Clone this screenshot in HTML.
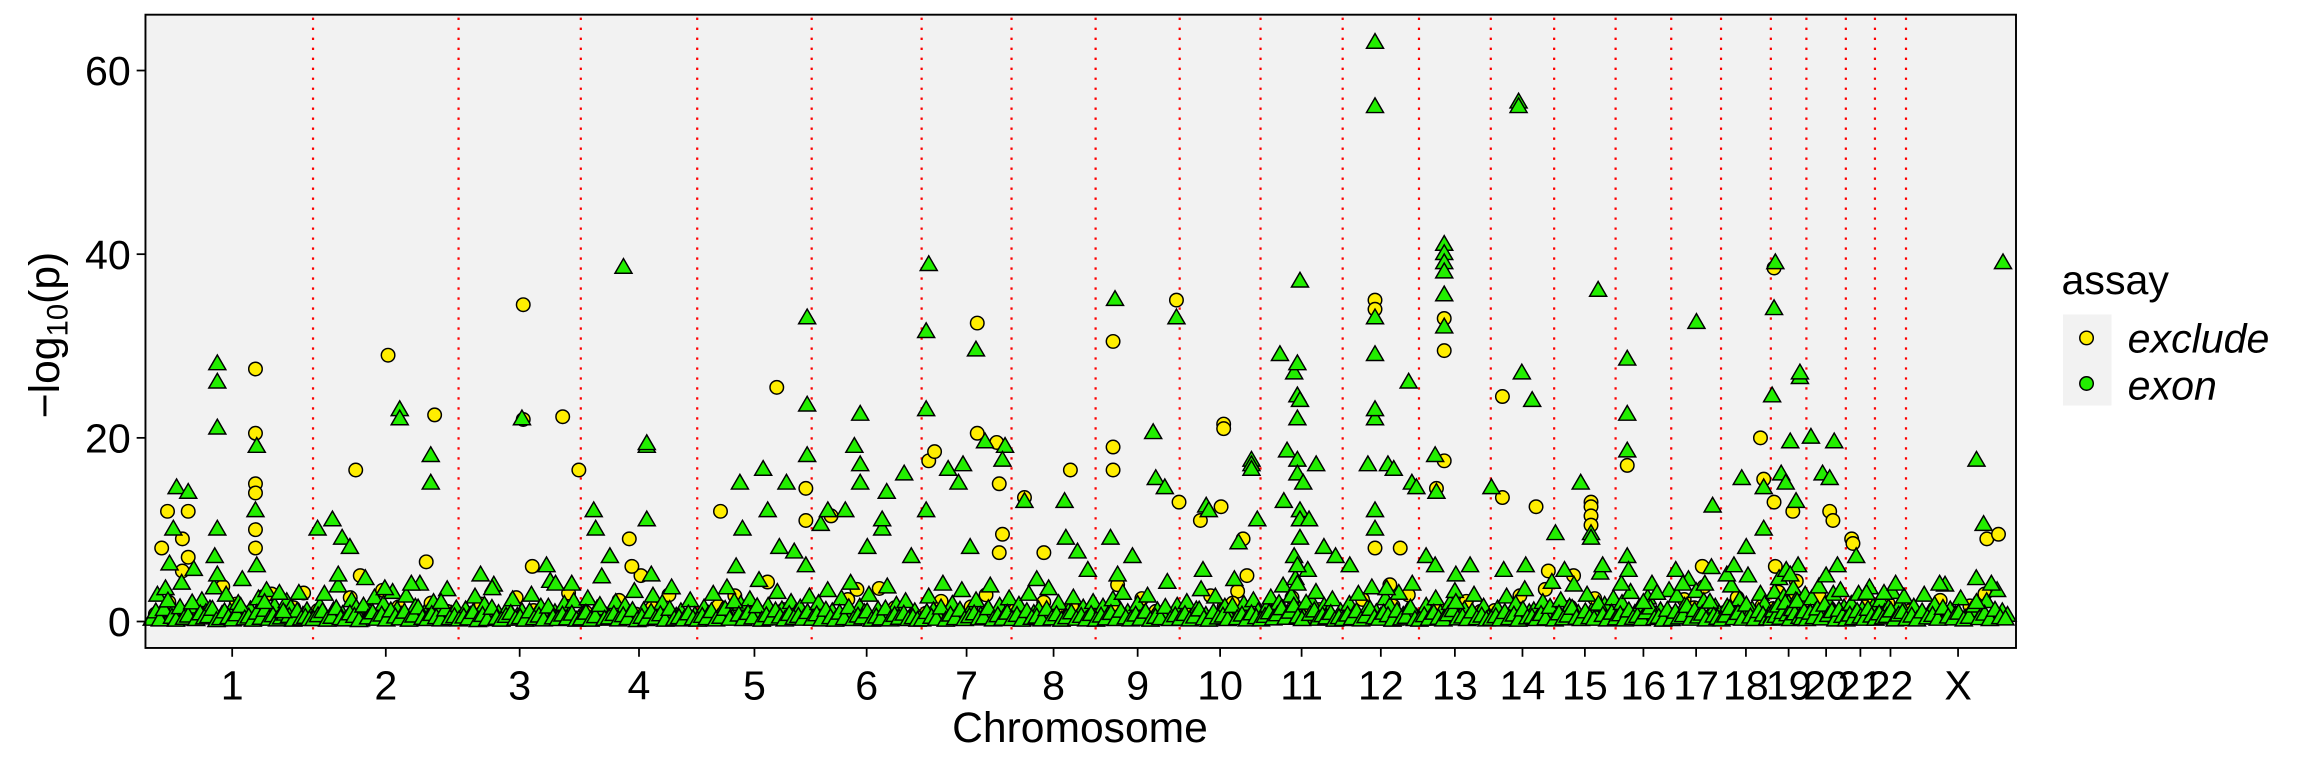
<!DOCTYPE html>
<html><head><meta charset="utf-8"><style>
html,body{margin:0;padding:0;background:#fff;}
svg{display:block;font-family:"Liberation Sans",Arial,sans-serif;}
</style></head><body>
<svg id="chart" width="2304" height="768" viewBox="0 0 1568 522.7" preserveAspectRatio="none" xmlns="http://www.w3.org/2000/svg">
<rect x="0" y="0" width="1568" height="523" fill="#fff"/>
<rect x="99" y="10" width="1273" height="431" fill="#f2f2f2"/>
<g id="vlines"></g>
<g id="points"></g>
<rect x="99" y="10" width="1273" height="431" fill="none" stroke="#000" stroke-width="1.3"/>
<g id="yaxis"></g>
<g id="xaxis"></g>
<text transform="translate(40,228) rotate(-90)" text-anchor="middle" font-size="29">−log<tspan font-size="20" dy="6">10</tspan><tspan dy="-6">(p)</tspan></text>
<text x="735" y="505" text-anchor="middle" font-size="29">Chromosome</text>
<g>
<text x="1403" y="200" font-size="28">assay</text>
<rect x="1404" y="214" width="33" height="62" fill="#f2f2f2"/>
<circle cx="1420" cy="230" r="4.6" fill="#ffee00" stroke="#000" stroke-width="1"/>
<circle cx="1420" cy="261" r="4.6" fill="#22ee00" stroke="#000" stroke-width="1"/>
<text x="1448" y="240" font-size="28" font-style="italic">exclude</text>
<text x="1448" y="272" font-size="28" font-style="italic">exon</text>
</g>
</svg>
<script>
const chrNames=["1","2","3","4","5","6","7","8","9","10","11","12","13","14","15","16","17","18","19","20","21","22","X"];
const chrLen=[250,225,189,180,177,170,139,130,130,125,127,118,111,98,95,86,77,77,55,61,45,48,161];
const yTicks=[0,20,40,60];
// [chrIndex, positionMb, -log10p]
const exonPeaks=[
[0,39,14.5],[0,57,14],[0,34,10],[0,102,28],[0,102,26],[0,102,21],[0,102,10],[0,98,7],[0,102,5],[0,163,19],[0,161,12],[0,163,6],[0,175,2],[0,198,3],[0,204,1],
[1,7,10],[1,30,11],[1,45,9],[1,57,8],[1,39,5],[1,134,23],[1,134,22],[1,182,18],[1,182,15],[1,111,3.5],[1,152,4],[1,198,2],
[2,34,5],[2,52,3.5],[2,98,22],[2,136,6],[2,150,4],[2,175,4],
[3,20,12],[3,23,10],[3,45,7],[3,66,38.5],[3,102,19],[3,102,19.3],[3,102,11],[3,109,5],
[4,66,15],[4,70,10],[4,102,16.5],[4,109,12],[4,138,15],[4,127,8],[4,150,7.5],[4,170,33],[4,170,23.5],[4,170,18],[4,168,6],
[5,14,10.5],[5,25,12],[5,52,12],[5,66,19],[5,75,22.5],[5,75,17],[5,75,15],[5,86,8],[5,109,10],[5,109,11],[5,116,14],[5,143,16],[5,154,7],
[6,7,12],[6,7,31.5],[6,7,23],[6,11,38.8],[6,41,16.5],[6,57,15],[6,64,17],[6,84,29.5],[6,98,19.5],[6,129,19],[6,125,17.5],[6,75,8],
[7,20,13],[7,84,9],[7,82,13],[7,102,7.5],[7,118,5.5],[7,39,4.5],
[8,30,35],[8,23,9],[8,34,5],[8,57,7],[8,89,20.5],[8,93,15.5],[8,107,14.5],[8,125,33],
[9,36,5.5],[9,41,12.5],[9,45,12],[9,91,8.5],[9,111,17.5],[9,111,17],[9,111,16.5],[9,120,11],
[10,30,29],[10,41,18.5],[10,36,13],[10,52,27],[10,57,28],[10,57,24.5],[10,61,24],[10,57,22],[10,57,17.5],[10,57,16],[10,61,12],[10,61,11],[10,61,9],[10,61,37],[10,66,15],[10,52,7],[10,75,11],[10,86,17],[10,98,8],[10,116,7],[10,57,6],[10,57,4],
[11,11,6],[11,50,63],[11,50,56],[11,50,29],[11,50,22],[11,50,33],[11,50,23],[11,50,12],[11,50,10],[11,39,17],[11,70,17],[11,79,16.5],[11,102,26],[11,107,15],[11,114,14.5],[11,68,3.5],
[12,11,7],[12,25,18],[12,27,14],[12,39,41],[12,39,40],[12,39,39],[12,39,38],[12,39,35.5],[12,39,32],[12,25,6],[12,57,5],[12,57,2],[12,79,6],
[13,1,14.5],[13,20,5.5],[13,43,56.5],[13,43,56],[13,48,27],[13,54,6],[13,64,24],
[14,2,9.5],[14,16,5.5],[14,41,15],[14,57,9.5],[14,57,9],[14,68,36],[14,75,6],
[15,9,4],[15,18,22.5],[15,18,28.5],[15,18,18.5],[15,18,7],[15,20,5.5],[15,43,2],[15,64,3],
[16,7,5.5],[16,18,4],[16,39,32.5],[16,64,12.5],[16,52,4],
[17,9,5],[17,32,15.5],[17,39,8],[17,20,6],[17,66,14.5],[17,66,10],
[18,2,24.5],[18,5,34],[18,7,39],[18,16,16],[18,23,15],[18,30,19.5],[18,39,13],[18,45,26.5],[18,45,27],[18,30,5],
[19,7,20],[19,25,16],[19,36,15.5],[19,43,19.5],[19,48,6],
[20,16,7],[20,32,3],
[21,14,3],[21,32,4],
[22,52,4],[22,109,17.5],[22,120,10.5],[22,150,39],[22,132,4],[22,109,2]
];
const excludePeaks=[
[0,16,8],[0,25,12],[0,57,12],[0,48,9],[0,57,7],[0,161,27.5],[0,161,20.5],[0,161,15],[0,161,14],[0,161,10],[0,161,8],[0,186,3],[0,220,1.5],
[1,66,16.5],[1,73,5],[1,116,29],[1,188,22.5],[1,175,6.5],
[2,100,22],[2,100,34.5],[2,114,6],[2,161,22.3],[2,186,16.5],
[3,75,9],[3,93,5],[3,79,6],
[4,36,12],[4,123,25.5],[4,168,14.5],[4,168,11],
[5,30,11.5],[5,70,3.5],
[6,11,17.5],[6,20,18.5],[6,86,32.5],[6,86,20.5],[6,116,19.5],[6,120,15],[6,125,9.5],[6,120,7.5],
[7,20,13.5],[7,50,7.5],[7,91,16.5],
[8,27,30.5],[8,27,19],[8,27,16.5],[8,125,35],[8,129,13],[8,34,4],
[9,32,11],[9,68,21.5],[9,68,21],[9,64,12.5],[9,98,9],[9,104,5],[9,82,2],
[11,50,35],[11,50,34],[11,50,8],[11,89,8],[11,73,4],
[12,27,14.5],[12,39,33],[12,39,29.5],[12,39,17.5],
[13,18,13.5],[13,70,12.5],[13,18,24.5],[13,89,5.5],
[14,30,5],[14,57,13],[14,57,12.5],[14,57,11.5],[14,57,10.5],
[15,18,17],
[16,48,6],
[17,66,15.5],[17,61,20],
[18,5,38.5],[18,5,13],[18,7,6],[18,34,12],
[19,36,12],[19,41,11],
[20,9,9],[20,11,8.5],
[21,20,2],
[22,125,9],[22,143,9.5]
];
// low-significance background values per chromosome (evenly spread along chromosome)
const exonLow=[
"0.5,2.8,0.3,3.5,6.2,1.1,0.2,4.1,0.8,1.5,5.6,0.4,2.2,0.9,1.3,3.6,0.1,0.7,2.8,1.0,0.3,1.9,4.5,0.6,1.2,0.2,2.4,0.8,3.3,0.5,1.6,0.3,0.9,2.1,1.4,0.2,3.0,0.6,1.1,0.4",
"0.4,1.6,2.9,0.2,1.1,3.8,0.7,0.3,2.2,1.4,0.1,4.6,0.9,2.5,0.5,1.8,0.3,3.1,1.2,0.6,2.7,0.2,1.5,4.0,0.8,0.4,2.0,1.0,0.3,3.4,0.7,1.3",
"0.3,1.2,0.6,2.6,0.1,1.7,0.4,3.9,0.8,0.2,1.4,2.3,0.5,1.0,0.2,2.8,0.7,1.5,0.3,4.3,0.9,0.4,1.8,0.6,2.1,0.2",
"0.6,2.4,0.2,1.3,4.8,0.5,0.9,2.0,0.3,1.6,0.7,3.2,0.1,1.1,0.4,2.7,0.8,1.9,0.2,3.6,0.5,1.0,0.3,2.2,0.6",
"0.2,1.4,0.7,2.9,0.3,1.1,3.6,0.5,5.9,1.8,0.4,2.3,0.9,4.4,0.2,1.6,0.6,3.1,1.2,0.3,2.0,0.8,1.4,0.5,2.6",
"0.5,1.9,0.3,3.3,1.0,0.2,2.4,0.7,4.1,0.4,1.5,0.9,2.8,0.2,1.2,0.6,3.7,0.3,1.7,0.8,2.1,0.4,1.0,0.2",
"0.3,2.6,1.1,0.5,4.0,0.2,1.8,0.7,3.3,0.4,1.3,2.2,0.6,0.9,3.8,0.3,1.6,0.5,2.4",
"0.4,1.7,0.2,2.9,0.8,1.2,0.3,3.5,0.6,1.9,0.2,1.0,2.5,0.5,1.4,0.3,2.0",
"0.2,1.5,0.6,2.3,0.4,3.0,0.9,0.3,1.8,0.5,2.7,0.2,1.1,0.7,4.2,0.4,1.6",
"0.5,2.0,0.3,1.2,3.4,0.6,0.2,2.6,0.9,1.5,0.4,4.5,0.7,1.8,0.3,2.2,1.0",
"0.3,1.4,2.5,0.6,1.9,3.8,0.8,2.7,4.6,1.2,0.4,5.5,2.0,3.1,0.5,1.6,0.9,2.3,0.2,1.0",
"0.4,1.8,0.7,2.9,0.3,1.3,3.6,0.9,0.5,2.4,1.6,0.2,3.0,0.6,1.1,4.0,0.4",
"0.2,1.6,0.5,2.4,0.8,0.3,1.9,3.2,0.6,1.2,0.4,2.8,0.7,1.5,0.3",
"0.5,1.3,0.3,2.6,0.7,1.8,0.2,3.4,0.9,1.1,0.4,2.0,0.6,4.2",
"0.3,2.2,0.6,1.5,3.9,0.8,0.4,2.8,1.0,0.5,5.2,1.7,0.3,2.4",
"0.6,1.9,0.3,3.1,0.8,1.4,0.4,2.5,4.0,0.7,1.1,0.2,3.3",
"0.4,2.7,0.9,1.6,4.5,0.5,3.2,1.2,2.1,0.3,5.8,1.5,0.8",
"0.3,1.5,3.8,0.7,2.3,0.5,4.9,1.2,0.4,2.9,1.8,0.6",
"0.5,3.1,1.4,4.6,0.8,2.6,5.5,1.9,0.4,3.5,2.2,6.0,1.1,0.7,2.8",
"0.4,2.4,1.0,3.7,0.6,4.9,1.7,2.9,0.3,3.3,1.4",
"0.3,1.8,0.7,2.9,1.2,0.5,3.6,1.5",
"0.5,2.2,0.9,1.4,3.1,0.3,1.8,2.6",
"0.4,1.5,0.3,2.8,0.9,1.7,0.5,3.9,1.2,0.6,2.4,0.3,1.1,4.6,0.7,2.1,0.4,3.3,1.0,0.6"
];
const excludeLow=[
"0.8,2.1,5.5,1.4,0.6,3.8,1.9,0.9,2.7,0.5,1.6,3.1",
"1.2,0.5,2.6,0.9,3.4,1.6,0.4,2.0,1.1",
"0.7,1.9,0.4,2.6,1.2,0.6,3.1",
"1.0,0.4,2.3,0.8,1.5,2.9,0.6",
"0.6,1.7,2.8,0.9,4.3,1.3,0.5",
"1.1,0.5,2.4,0.8,3.6,1.5,0.4",
"0.9,2.2,0.5,1.6,2.9,0.7",
"1.3,0.6,2.1,0.9,1.7,0.5",
"0.8,1.9,0.4,2.5,1.1,0.6",
"1.2,0.7,2.8,1.6,3.3,0.5",
"0.6,1.8,2.6,0.9,1.3,0.4",
"1.0,2.4,0.6,1.7,2.9",
"0.7,1.5,0.4,2.2,1.1",
"1.2,0.5,2.8,0.9,3.5",
"0.8,1.6,0.4,2.5,1.3",
"1.1,0.6,2.3,0.9",
"0.7,2.4,1.5,3.8,0.9",
"1.0,2.6,0.5,1.7",
"1.4,3.2,0.8,2.5,4.4,1.9",
"0.9,2.7,1.5,0.6",
"1.1,0.6,2.0",
"0.8,1.6,0.5",
"1.2,0.6,2.3,0.9,1.7,3.0,0.5"
];

const NS='http://www.w3.org/2000/svg';
const X0=103,X1=1368,Y0=423,YPU=6.25;
const chrStart=[];let acc=0;for(const L of chrLen){chrStart.push(acc);acc+=L;}
const total=acc;
function xScale(g){return X0+(X1-X0)*g/total;}
function yScale(v){return Y0-v*YPU;}
function gpos(c,p){return chrStart[c]+p;}
function mk(tag,attrs,parent){const e=document.createElementNS(NS,tag);for(const k in attrs)e.setAttribute(k,attrs[k]);parent.appendChild(e);return e;}

const vl=document.getElementById('vlines');
for(let c=1;c<chrLen.length;c++){
  const x=xScale(chrStart[c]);
  const l=mk('line',{x1:x,x2:x,y1:12,y2:441,stroke:'#ff0000','stroke-width':1.5,'stroke-dasharray':'1.6 5.2'},vl);
  
  
}

const pts=document.getElementById('points');
function circle(g,v){
  const e=mk('circle',{cx:xScale(g).toFixed(2),cy:yScale(v).toFixed(2),r:4.6,fill:'#ffee00',stroke:'#000','stroke-width':1},pts);
  
  
}
function tri(g,v){
  const x=xScale(g),y=yScale(v);
  const d=`M${(x-5.8).toFixed(2)},${(y+3.6).toFixed(2)} L${(x+5.8).toFixed(2)},${(y+3.6).toFixed(2)} L${x.toFixed(2)},${(y-6.4).toFixed(2)} Z`;
  const e=mk('path',{d:d,fill:'#22ee00',stroke:'#000','stroke-width':1,'stroke-linejoin':'miter'},pts);
  
  
}
excludeLow.forEach((s,c)=>{const vals=s.split(',').map(Number);const n=vals.length;vals.forEach((v,i)=>circle(gpos(c,chrLen[c]*(i+0.3)/n),v));});
excludePeaks.forEach(p=>circle(gpos(p[0],p[1]),p[2]));
exonLow.forEach((s,c)=>{const vals=s.split(',').map(Number);const n=vals.length;vals.forEach((v,i)=>tri(gpos(c,chrLen[c]*(i+0.5)/n),v));
  vals.forEach((v,i)=>tri(gpos(c,chrLen[c]*(i+0.1)/n),v*0.35));});
exonPeaks.forEach(p=>tri(gpos(p[0],p[1]),p[2]));

const ya=document.getElementById('yaxis');
yTicks.forEach(t=>{
  const y=yScale(t);
  const l=mk('line',{x1:93,x2:99,y1:y,y2:y,stroke:'#000','stroke-width':1.2},ya);
  
  
  const tx=mk('text',{x:89,y:y+10,'text-anchor':'end','font-size':28},ya);
  tx.textContent=String(t);
  
  
});
const xa=document.getElementById('xaxis');
chrNames.forEach((nm,c)=>{
  const x=xScale(chrStart[c]+chrLen[c]/2);
  const l=mk('line',{x1:x,x2:x,y1:441,y2:447,stroke:'#000','stroke-width':1.2},xa);
  
  
  const tx=mk('text',{x:x,y:476,'text-anchor':'middle','font-size':28},xa);
  tx.textContent=nm;
  
  
});
</script>
</body></html>
